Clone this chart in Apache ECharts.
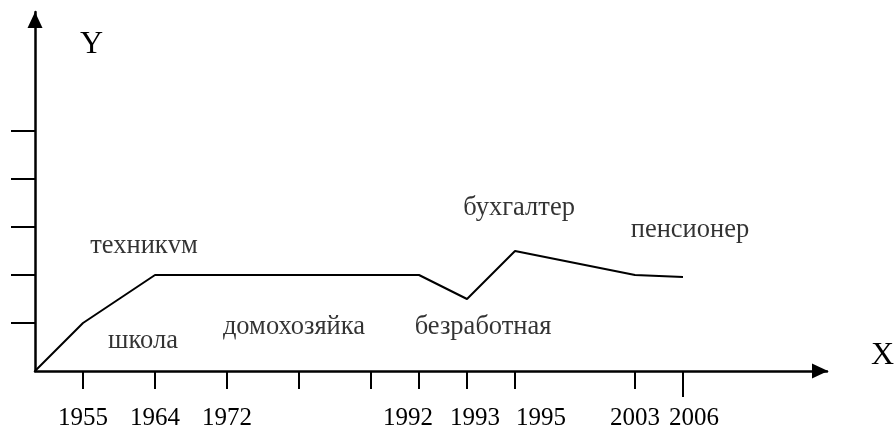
<!DOCTYPE html>
<html>
<head>
<meta charset="utf-8">
<script src="https://cdn.jsdelivr.net/npm/echarts@6/dist/echarts.min.js"></script>
<style>
html,body{margin:0;padding:0;background:#fff;}
#lifeChart{width:895px;height:430px;}
</style>
</head>
<body>
<div id="lifeChart"></div>
<script>
// деления шкалы времени (ось X разбита на 33 равных шага)
var slotCount = 34;
var tickSlots = [2, 5, 8, 11, 14, 16, 18, 20, 25, 27];
var tickYears = ['1955', '1964', '1972', '', '', '1992', '1993', '1995', '2003', '2006'];
// деления оси Y
var levelTicks = ['1', '2', '3', '4', '5'];
// линия жизни
var lifeSlots = [0, 2, 5, 16, 18, 20, 25, 25, 27];
var lifeLevels = [0, 1, 2, 2, 1.5, 2.5, 2, 1.96, 1.96];
// этапы
var stageNames = ['школа', 'техникvм', 'домохозяйка', 'безработная', 'бухгалтер', 'пенсионер'];

lifeLine = {
    font: 'Liberation Serif, Times New Roman, serif',
    // где стоят подписи этапов (в единицах осей)
    stageSpots: [[4.5, 0.62], [4.54, 2.6], [10.79, 0.91], [18.67, 0.91], [20.17, 3.39], [27.29, 2.93]],
    // сдвиг подписей годов относительно делений, px
    yearShift: {'1992': -11, '1993': 8, '1995': 26, '2006': 11},

    init: function() {
        lifeLine.chart = echarts.init(document.getElementById('lifeChart'));
        lifeLine.chart.setOption(lifeLine.getOption());
    },
    slotLabel: function(i) {
        var k = tickSlots.indexOf(i);
        return k >= 0 ? tickYears[k] : '';
    },
    getOption: function() {
        var font = lifeLine.font;
        var slots = [];
        for (var i = 0; i < slotCount; i++) {
            slots.push(lifeLine.slotLabel(i));
        }
        var lastSlot = tickSlots[tickSlots.length - 1];
        var rich = {};
        $each(tickYears, function(y) {
            if (!y) return;
            var s = lifeLine.yearShift[y] || 0;
            rich['y' + y] = {
                fontFamily: font, fontSize: 25, color: '#000',
                padding: s > 0 ? [0, 0, 0, 2 * s] : [0, -2 * s, 0, 0]
            };
        });
        var lifeData = [];
        $each(lifeSlots, function(x, i) {
            lifeData.push([x, lifeLevels[i]]);
        });
        var stageData = [];
        $each(stageNames, function(n, i) {
            stageData.push({name: n, value: lifeLine.stageSpots[i]});
        });
        var axisLineStyle = {color: '#000', width: 2.5};

        return {
            animation: false,
            backgroundColor: '#fff',
            grid: [
                {left: 35, right: 68, top: 12, bottom: 59, outerBoundsMode: 'none'},
                {left: 35, right: 68, top: 131, height: 192, outerBoundsMode: 'none'}
            ],
            xAxis: [
                {
                    type: 'value', gridIndex: 0, min: 0, max: slotCount - 1,
                    axisLine: {show: true, onZero: false, lineStyle: axisLineStyle,
                        symbol: ['none', 'triangle'], symbolSize: [15, 16], symbolOffset: [0, -7]},
                    axisTick: {show: false}, axisLabel: {show: false}, splitLine: {show: false}
                },
                {
                    type: 'category', gridIndex: 0, position: 'bottom', data: slots, boundaryGap: false,
                    axisLine: {show: false, onZero: false},
                    axisTick: {
                        show: true, length: 18, lineStyle: {color: '#000', width: 2},
                        interval: function(i) { return i !== lastSlot && tickSlots.indexOf(i) >= 0; }
                    },
                    axisLabel: {
                        show: true, margin: 35, hideOverlap: false,
                        interval: function(i, v) { return v !== ''; },
                        formatter: function(v) { return v ? '{y' + v + '|' + v + '}' : ''; },
                        rich: rich
                    },
                    splitLine: {show: false}
                },
                {type: 'value', gridIndex: 1, show: false},
                {
                    // последнее деление чуть длиннее
                    type: 'category', gridIndex: 0, position: 'bottom', data: slots, boundaryGap: false,
                    axisLine: {show: false, onZero: false},
                    axisTick: {
                        show: true, length: 26, lineStyle: {color: '#000', width: 2},
                        interval: function(i) { return i === lastSlot; }
                    },
                    axisLabel: {show: false}, splitLine: {show: false}
                }
            ],
            yAxis: [
                {
                    type: 'value', gridIndex: 0, min: 0, max: 7.48,
                    axisLine: {show: true, onZero: false, lineStyle: axisLineStyle,
                        symbol: ['none', 'triangle'], symbolSize: [15, 16], symbolOffset: [0, -8]},
                    axisTick: {show: false}, axisLabel: {show: false}, splitLine: {show: false}
                },
                {
                    type: 'category', gridIndex: 1, data: levelTicks, boundaryGap: false,
                    axisLine: {show: false, onZero: false},
                    axisTick: {show: true, length: 24, interval: 0, lineStyle: {color: '#000', width: 2}},
                    axisLabel: {show: false}, splitLine: {show: false}
                }
            ],
            graphic: [
                {type: 'text', left: 80, top: 29, style: {text: 'Y', font: '32px ' + font, fill: '#000'}},
                {type: 'text', left: 871, top: 340, style: {text: 'X', font: '32px ' + font, fill: '#000'}}
            ],
            series: [
                {
                    name: 'жизнь', type: 'line', xAxisIndex: 0, yAxisIndex: 0,
                    data: lifeData, symbol: 'none', silent: true,
                    lineStyle: {color: '#000', width: 2}
                },
                {
                    name: 'этапы', type: 'scatter', xAxisIndex: 0, yAxisIndex: 0,
                    data: stageData, symbolSize: 0, silent: true,
                    label: {show: true, position: 'inside', formatter: '{b}',
                        fontFamily: font, fontSize: 26.5, color: '#000',
                        textBorderWidth: 0, textBorderColor: 'transparent'}
                }
            ]
        };
    }
};

function $each(arr, fn) {
    for (var i = 0; i < arr.length; i++) fn(arr[i], i);
}

lifeLine.init();
</script>
</body>
</html>
